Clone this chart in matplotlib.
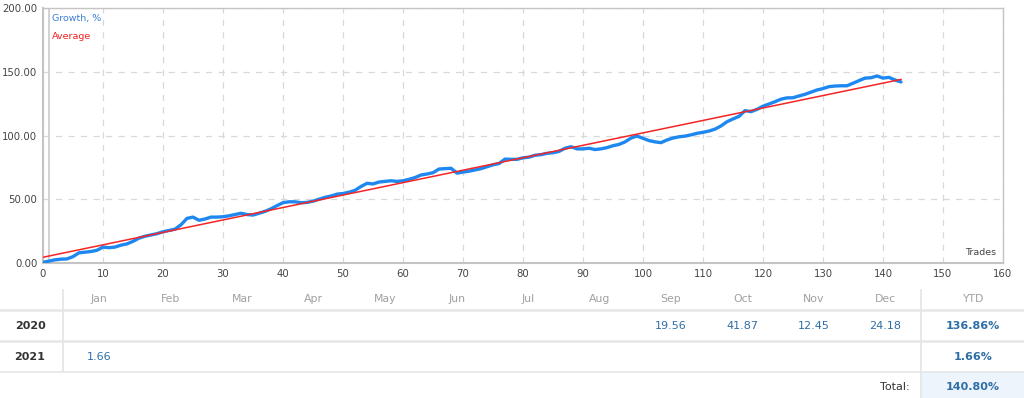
import matplotlib
matplotlib.use('Agg')
import matplotlib.pyplot as plt

# growth curve, one value per trade (0..143)
growth = [0.5, 1.5, 2.5, 3, 3.2, 5, 8, 8.5, 9, 10,
          12.5, 12, 12.5, 14, 15, 17, 19.5, 21, 22, 23,
          24.5, 25.5, 26.5, 30, 35, 36, 33.5, 34.5, 36, 36,
          36.3, 37, 38, 39, 38, 37.6, 39, 40.5, 42.5, 45,
          47.3, 48, 48, 47.3, 47.5, 48.5, 50, 51.5, 52.5, 54,
          54.5, 55.5, 57, 60, 62.5, 62, 63.5, 64, 64.5, 64,
          64.5, 65.6, 67, 69, 69.8, 70.8, 73.7, 74, 74.3, 70.5,
          71.3, 72, 73, 74, 75.5, 77, 78, 81.5, 81.3, 81.3,
          82.5, 83, 84.5, 85, 86, 86.5, 87.5, 90, 91.2, 89.5,
          89.5, 90, 89, 89.5, 90.5, 92, 93, 95, 98, 99.6,
          97.8, 96, 95, 94.4, 96.5, 98, 99, 99.5, 100.5, 101.7,
          102.5, 103.5, 105, 107.5, 110.8, 113, 115, 119.5, 118.7, 120.5,
          123, 124.7, 126.5, 128.5, 129.5, 129.6, 131, 132.3, 134, 135.7,
          136.8, 138.3, 138.8, 139, 139, 141, 143, 145, 145.3, 146.7,
          145, 145.6, 143.5, 142]
trades = list(range(len(growth)))

# average line endpoints
avg_x = [0, 143]
avg_y = [4.5, 144]

months = ['Jan', 'Feb', 'Mar', 'Apr', 'May', 'Jun', 'Jul', 'Aug', 'Sep', 'Oct', 'Nov', 'Dec']
years = ['2020', '2021']
monthly = {
    '2020': ['', '', '', '', '', '', '', '', '19.56', '41.87', '12.45', '24.18'],
    '2021': ['1.66', '', '', '', '', '', '', '', '', '', '', ''],
}
ytd = ['136.86%', '1.66%']
total = '140.80%'

W, H = 1024, 398
fig = plt.figure(figsize=(W / 100, H / 100), dpi=100)

# ---- chart
ax = fig.add_axes([43 / W, 1 - 263 / H, (1003 - 43) / W, (263 - 8) / H])
ax.set_xlim(0, 160)
ax.set_ylim(0, 200)
ax.set_xticks(range(0, 161, 10))
ax.set_yticks(range(0, 201, 50))
ax.set_yticklabels(['%.2f' % v for v in range(0, 201, 50)])
ax.grid(True, color='#d8d8d8', linestyle=(0, (5, 5)), linewidth=0.9)
ax.set_axisbelow(True)
for s in ax.spines.values():
    s.set_color('#c4c4c4')
    s.set_linewidth(1.0)
ax.spines['left'].set_linewidth(1.5)
ax.spines['bottom'].set_linewidth(1.5)
ax.tick_params(length=0, labelsize=7.3, colors='#444444', pad=4)
ax.axvline(1, color='#cfcfcf', linewidth=1.3, zorder=1)

ax.plot(trades, growth, color='#1e88f0', linewidth=2.4, solid_capstyle='round', zorder=3)
ax.plot(avg_x, avg_y, color='#f52525', linewidth=1.1, zorder=4)

ax.text(0.009, 0.975, 'Growth, %', transform=ax.transAxes, color='#3b7fd8',
        fontsize=6.8, va='top', ha='left')
ax.text(0.009, 0.905, 'Average', transform=ax.transAxes, color='#f02020',
        fontsize=6.8, va='top', ha='left')
ax.text(0.993, 0.025, 'Trades', transform=ax.transAxes, color='#444444',
        fontsize=6.8, va='bottom', ha='right')

# ---- table
tb = fig.add_axes([0, 0, 1, (H - 285) / H])
tb.set_xlim(0, W)
tb.set_ylim(H, 285)
tb.axis('off')

tb.fill_between([921, W], 372, H, color='#eef4fb', linewidth=0)
tb.plot([0, W], [310, 310], color='#e6e6e6', linewidth=1.8)
tb.plot([0, W], [340.5, 340.5], color='#e6e6e6', linewidth=1.8)
tb.plot([0, W], [371.5, 371.5], color='#e6e6e6', linewidth=1.2)
tb.plot([63, 63], [290, 371], color='#e6e6e6', linewidth=1.3)
tb.plot([920.5, 920.5], [290, H], color='#e6e6e6', linewidth=1.3)

for i, m in enumerate(months):
    tb.text(99 + 71.5 * i, 299, m, color='#a0a0a0', fontsize=7.8,
            ha='center', va='center')
tb.text(973, 299, 'YTD', color='#a0a0a0', fontsize=7.8, ha='center', va='center')

row_y = [326, 357]
for yr, yy, yt in zip(years, row_y, ytd):
    tb.text(30, yy, yr, color='#333333', fontsize=8, fontweight='bold',
            ha='center', va='center')
    for i, v in enumerate(monthly[yr]):
        if v:
            tb.text(99 + 71.5 * i, yy, v, color='#2e6ea6', fontsize=8,
                    ha='center', va='center')
    tb.text(973, yy, yt, color='#2e6ea6', fontsize=8, fontweight='bold',
            ha='center', va='center')

tb.text(910, 386.5, 'Total:', color='#333333', fontsize=8, ha='right', va='center')
tb.text(973, 386.5, total, color='#2e6ea6', fontsize=8, fontweight='bold',
        ha='center', va='center')

fig.savefig('out.png', dpi=100)
